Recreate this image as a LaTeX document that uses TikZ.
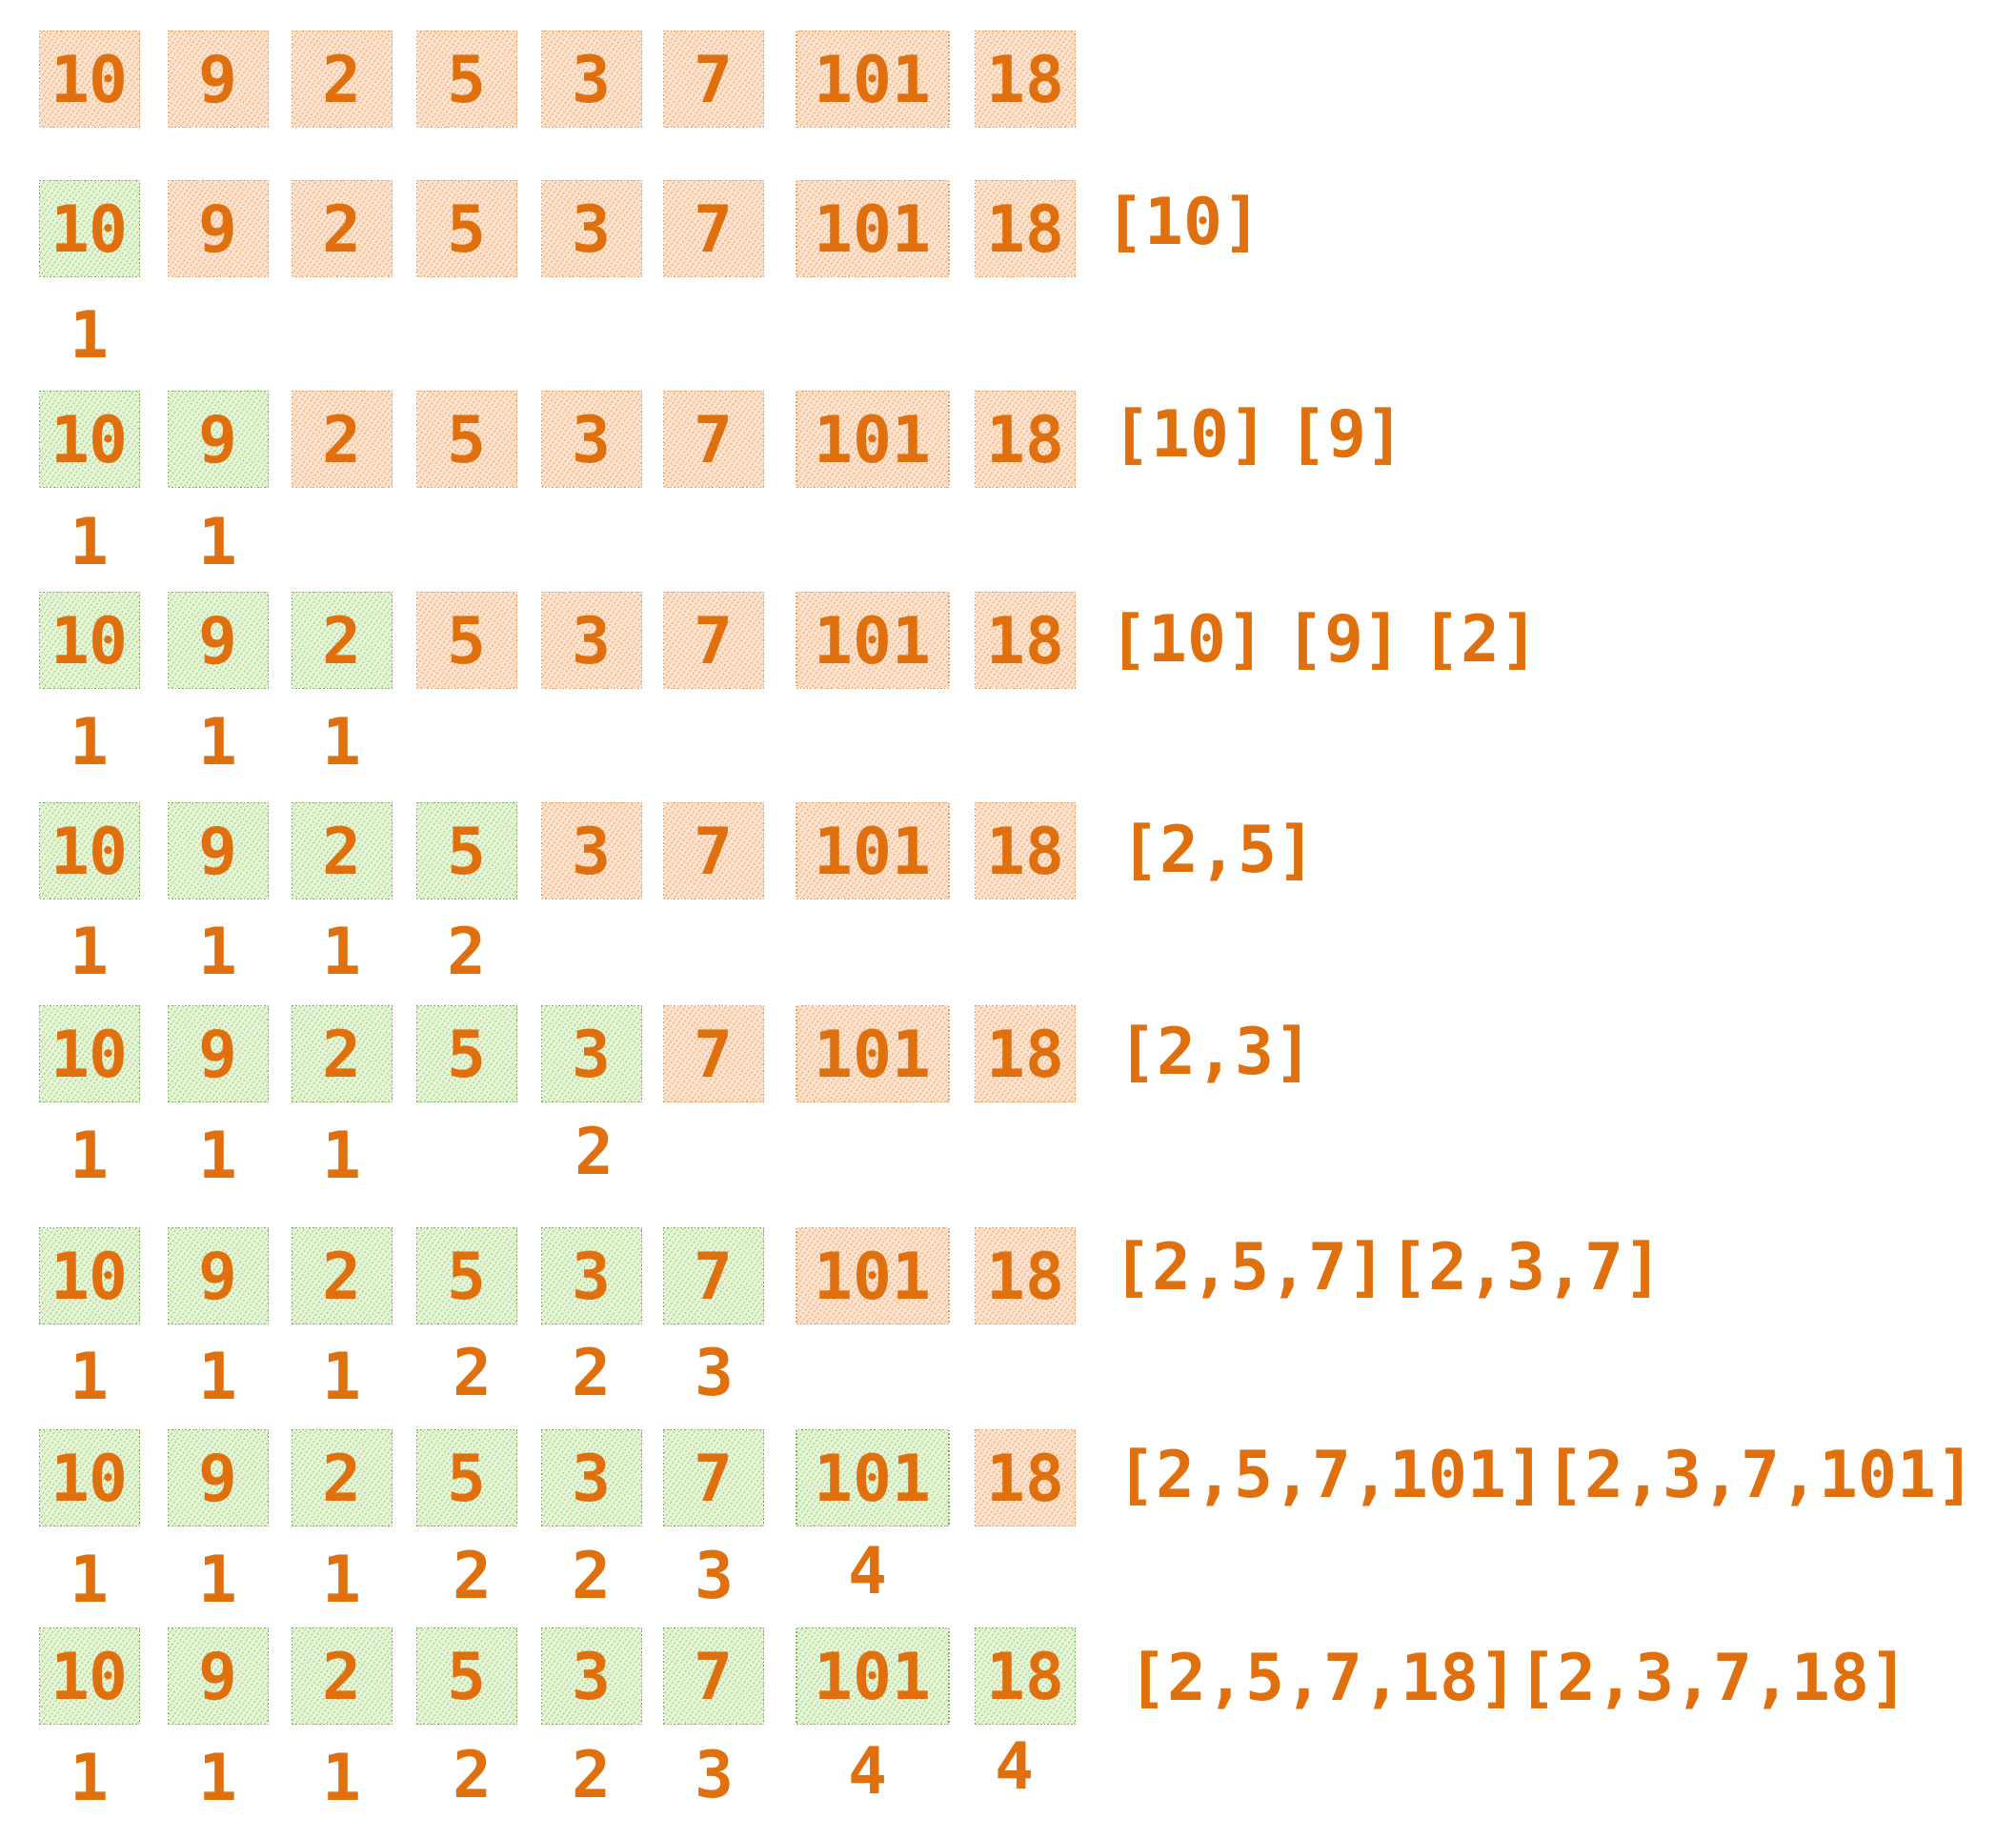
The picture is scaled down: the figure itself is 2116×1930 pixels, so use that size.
\documentclass[tikz,border=0pt]{standalone}
\usepackage{fontspec}
\setmonofont{DejaVu Sans Mono}
\usepackage{xcolor}
\usetikzlibrary{patterns.meta}
\definecolor{inkorange}{HTML}{E0700E}
\definecolor{todobg}{HTML}{FDE3CD}
\definecolor{todohatch}{HTML}{F5B383}
\definecolor{todoline}{HTML}{E99E64}
\definecolor{donebg}{HTML}{E6F5D8}
\definecolor{donehatch}{HTML}{ADD78F}
\definecolor{doneline}{HTML}{7DB155}
\newcommand{\gap}{\hspace{10.5pt}}

\begin{document}
\begin{tikzpicture}[
  x=0.5pt, y=-0.5pt,
  every node/.style={font=\ttfamily\bfseries\fontsize{34}{40}\selectfont, text=inkorange, inner sep=0pt, text height=24.8pt, text depth=0pt},
  todo/.style={draw=todoline, line width=0.8pt, densely dotted, preaction={fill=todobg}, pattern={Lines[angle=55,distance=2.2pt,line width=0.6pt]}, pattern color=todohatch, minimum width=52.5pt, minimum height=50.5pt},
  done/.style={todo, draw=doneline, preaction={fill=donebg}, pattern color=donehatch},
  wide/.style={minimum width=80pt},
  num/.style={},
  seq/.style={anchor=west}
]
  \useasboundingbox (0,0) rectangle (2116,1930);

  % row 1
  \node[todo] (r1c1) at (94,83) {10};
  \node[todo] (r1c2) at (229,83) {9};
  \node[todo] (r1c3) at (359,83) {2};
  \node[todo] (r1c4) at (490,83) {5};
  \node[todo] (r1c5) at (621,83) {3};
  \node[todo] (r1c6) at (749,83) {7};
  \node[todo, wide] (r1c7) at (916,83) {101};
  \node[todo] (r1c8) at (1076,83) {18};

  % row 2
  \node[done] (r2c1) at (94,240) {10};
  \node[todo] (r2c2) at (229,240) {9};
  \node[todo] (r2c3) at (359,240) {2};
  \node[todo] (r2c4) at (490,240) {5};
  \node[todo] (r2c5) at (621,240) {3};
  \node[todo] (r2c6) at (749,240) {7};
  \node[todo, wide] (r2c7) at (916,240) {101};
  \node[todo] (r2c8) at (1076,240) {18};
  \node[num] (n2c1) at (94,351) {1};
  \node[seq] (s2) at (1160,232) {[10]};

  % row 3
  \node[done] (r3c1) at (94,461) {10};
  \node[done] (r3c2) at (229,461) {9};
  \node[todo] (r3c3) at (359,461) {2};
  \node[todo] (r3c4) at (490,461) {5};
  \node[todo] (r3c5) at (621,461) {3};
  \node[todo] (r3c6) at (749,461) {7};
  \node[todo, wide] (r3c7) at (916,461) {101};
  \node[todo] (r3c8) at (1076,461) {18};
  \node[num] (n3c1) at (94,568) {1};
  \node[num] (n3c2) at (229,568) {1};
  \node[seq] (s3) at (1167,455) {[10]\gap[9]};

  % row 4
  \node[done] (r4c1) at (94,672) {10};
  \node[done] (r4c2) at (229,672) {9};
  \node[done] (r4c3) at (359,672) {2};
  \node[todo] (r4c4) at (490,672) {5};
  \node[todo] (r4c5) at (621,672) {3};
  \node[todo] (r4c6) at (749,672) {7};
  \node[todo, wide] (r4c7) at (916,672) {101};
  \node[todo] (r4c8) at (1076,672) {18};
  \node[num] (n4c1) at (94,778) {1};
  \node[num] (n4c2) at (229,778) {1};
  \node[num] (n4c3) at (359,778) {1};
  \node[seq] (s4) at (1164,670) {[10]\gap[9]\gap[2]};

  % row 5
  \node[done] (r5c1) at (94,893) {10};
  \node[done] (r5c2) at (229,893) {9};
  \node[done] (r5c3) at (359,893) {2};
  \node[done] (r5c4) at (490,893) {5};
  \node[todo] (r5c5) at (621,893) {3};
  \node[todo] (r5c6) at (749,893) {7};
  \node[todo, wide] (r5c7) at (916,893) {101};
  \node[todo] (r5c8) at (1076,893) {18};
  \node[num] (n5c1) at (94,998) {1};
  \node[num] (n5c2) at (229,998) {1};
  \node[num] (n5c3) at (359,998) {1};
  \node[num] (n5c4) at (490,998) {2};
  \node[seq] (s5) at (1176,891) {[2,5]};

  % row 6
  \node[done] (r6c1) at (94,1106) {10};
  \node[done] (r6c2) at (229,1106) {9};
  \node[done] (r6c3) at (359,1106) {2};
  \node[done] (r6c4) at (490,1106) {5};
  \node[done] (r6c5) at (621,1106) {3};
  \node[todo] (r6c6) at (749,1106) {7};
  \node[todo, wide] (r6c7) at (916,1106) {101};
  \node[todo] (r6c8) at (1076,1106) {18};
  \node[num] (n6c1) at (94,1212) {1};
  \node[num] (n6c2) at (229,1212) {1};
  \node[num] (n6c3) at (359,1212) {1};
  \node[num] (n6c5) at (624,1208) {2};
  \node[seq] (s6) at (1173,1103) {[2,3]};

  % row 7
  \node[done] (r7c1) at (94,1339) {10};
  \node[done] (r7c2) at (229,1339) {9};
  \node[done] (r7c3) at (359,1339) {2};
  \node[done] (r7c4) at (490,1339) {5};
  \node[done] (r7c5) at (621,1339) {3};
  \node[done] (r7c6) at (749,1339) {7};
  \node[todo, wide] (r7c7) at (916,1339) {101};
  \node[todo] (r7c8) at (1076,1339) {18};
  \node[num] (n7c1) at (94,1444) {1};
  \node[num] (n7c2) at (229,1444) {1};
  \node[num] (n7c3) at (359,1444) {1};
  \node[num] (n7c4) at (496,1440) {2};
  \node[num] (n7c5) at (621,1440) {2};
  \node[num] (n7c6) at (750,1440) {3};
  \node[seq] (s7) at (1168,1329) {[2,5,7]\hspace{2pt}[2,3,7]};

  % row 8
  \node[done] (r8c1) at (94,1551) {10};
  \node[done] (r8c2) at (229,1551) {9};
  \node[done] (r8c3) at (359,1551) {2};
  \node[done] (r8c4) at (490,1551) {5};
  \node[done] (r8c5) at (621,1551) {3};
  \node[done] (r8c6) at (749,1551) {7};
  \node[done, wide] (r8c7) at (916,1551) {101};
  \node[todo] (r8c8) at (1076,1551) {18};
  \node[num] (n8c1) at (94,1657) {1};
  \node[num] (n8c2) at (229,1657) {1};
  \node[num] (n8c3) at (359,1657) {1};
  \node[num] (n8c4) at (496,1653) {2};
  \node[num] (n8c5) at (621,1653) {2};
  \node[num] (n8c6) at (750,1653) {3};
  \node[num] (n8c7) at (911,1648) {4};
  \node[seq] (s8) at (1172,1547) {[2,5,7,101][2,3,7,101]};

  % row 9
  \node[done] (r9c1) at (94,1759) {10};
  \node[done] (r9c2) at (229,1759) {9};
  \node[done] (r9c3) at (359,1759) {2};
  \node[done] (r9c4) at (490,1759) {5};
  \node[done] (r9c5) at (621,1759) {3};
  \node[done] (r9c6) at (749,1759) {7};
  \node[done, wide] (r9c7) at (916,1759) {101};
  \node[done] (r9c8) at (1076,1759) {18};
  \node[num] (n9c1) at (94,1865) {1};
  \node[num] (n9c2) at (229,1865) {1};
  \node[num] (n9c3) at (359,1865) {1};
  \node[num] (n9c4) at (496,1862) {2};
  \node[num] (n9c5) at (621,1862) {2};
  \node[num] (n9c6) at (750,1862) {3};
  \node[num] (n9c7) at (911,1858) {4};
  \node[num] (n9c8) at (1065,1853) {4};
  \node[seq] (s9) at (1184,1760) {[2,5,7,18][2,3,7,18]};
\end{tikzpicture}
\end{document}
